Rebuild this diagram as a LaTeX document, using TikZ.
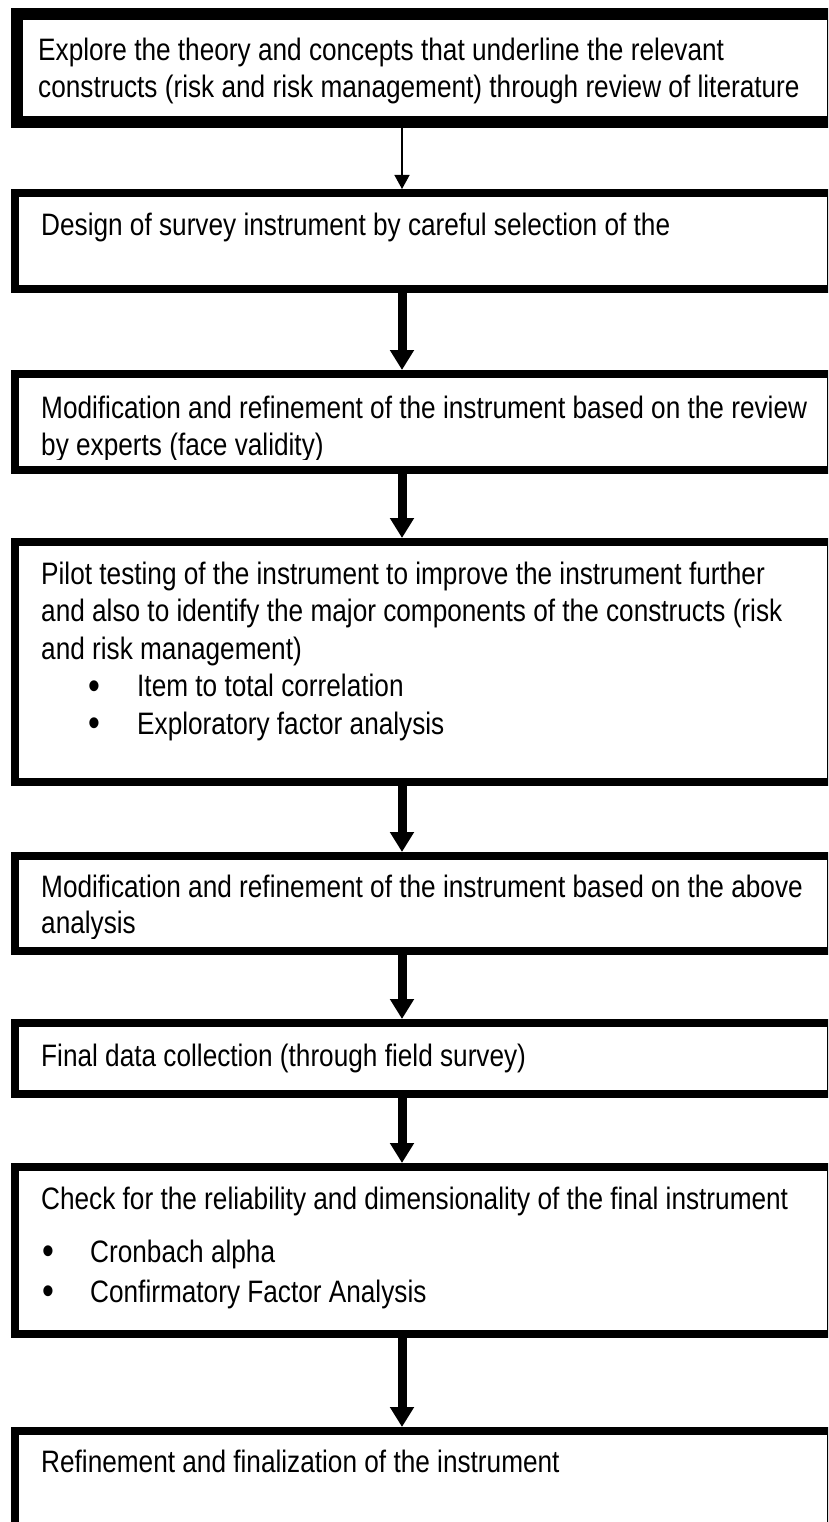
\documentclass[tikz,border=0pt]{standalone}
\usepackage{fontspec}
\setmainfont{Liberation Sans}[FakeStretch=0.845]
\usetikzlibrary{arrows.meta}

\begin{document}
\begin{tikzpicture}[x=1pt,y=-1pt,
  stepframe/.style={draw=black, line width=8pt, rectangle, inner sep=0pt,
    minimum width=816pt},
  topframe/.style={stepframe, line width=12pt},
  txt/.style={anchor=base west, inner sep=0pt,
    font=\fontsize{31}{37.5}\selectfont},
  dot/.style={txt, font=\fontsize{40}{40}\selectfont},
  thinflow/.style={draw=black, line width=1.4pt,
    -{Triangle[width=15pt,length=14pt]}},
  thickflow/.style={draw=black, line width=9pt,
    -{Triangle[width=23pt,length=20pt]}}
]
\useasboundingbox (0,0) rectangle (828,1522);
\clip (0,0) rectangle (828,1522);
\fill[white] (0,0) rectangle (828,1522);

% frames of the eight steps (right edges run past the page)
\node[topframe,  minimum height=108pt] (b1) at (425,68) {};
\node[stepframe, minimum height=96pt]  (b2) at (423,241) {};
\node[stepframe, minimum height=96pt]  (b3) at (423,422) {};
\node[stepframe, minimum height=240pt] (b4) at (423,662) {};
\node[stepframe, minimum height=95pt]  (b5) at (423,903.5) {};
\node[stepframe, minimum height=71pt]  (b6) at (423,1058.5) {};
\node[stepframe, minimum height=167pt] (b7) at (423,1250.5) {};
\node[stepframe, minimum height=169pt] (b8) at (423,1515.5) {};

% texts, each clipped to its frame's writing area
\begin{scope}
  \clip (23,21) rectangle (827,108);
  \node[txt] (t1a) at (38,61) {Explore the theory and concepts that underline the relevant};
  \node[txt] (t1b) at (38,98) {constructs (risk and risk management) through review of literature};
\end{scope}
\begin{scope}
  \clip (19,197) rectangle (827,277);
  \node[txt] (t2a) at (41,236) {Design of survey instrument by careful selection of the};
\end{scope}
\begin{scope}
  \clip (19,378) rectangle (827,459);
  \node[txt] (t3a) at (41,418) {Modification and refinement of the instrument based on the review};
  \node[txt] (t3b) at (41,455) {by experts (face validity)};
\end{scope}
\begin{scope}
  \clip (19,547) rectangle (827,770);
  \node[txt] (t4a) at (41,584) {Pilot testing of the instrument to improve the instrument further};
  \node[txt] (t4b) at (41,621.5) {and also to identify the major components of the constructs (risk};
  \node[txt] (t4c) at (41,659) {and risk management)};
  \node[dot] (t4d) at (88,699) {•};
  \node[txt] (t4e) at (137,696.5) {Item to total correlation};
  \node[dot] (t4f) at (88,736.5) {•};
  \node[txt] (t4g) at (137,734) {Exploratory factor analysis};
\end{scope}
\begin{scope}
  \clip (19,859) rectangle (827,938);
  \node[txt] (t5a) at (41,897) {Modification and refinement of the instrument based on the above};
  \node[txt] (t5b) at (41,933) {analysis};
\end{scope}
\begin{scope}
  \clip (19,1027) rectangle (827,1082);
  \node[txt] (t6a) at (41,1066) {Final data collection (through field survey)};
\end{scope}
\begin{scope}
  \clip (19,1171) rectangle (827,1322);
  \node[txt] (t7a) at (41,1209) {Check for the reliability and dimensionality of the final instrument};
  \node[dot] (t7b) at (42,1264.5) {•};
  \node[txt] (t7c) at (90,1262) {Cronbach alpha};
  \node[dot] (t7d) at (42,1304.5) {•};
  \node[txt] (t7e) at (90,1302) {Confirmatory Factor Analysis};
\end{scope}
\node[txt] (t8a) at (41,1472) {Refinement and finalization of the instrument};

% connectors down the middle column
\coordinate (ax) at (402,0);
\draw[thinflow]  (b1.south -| ax) -- (b2.north -| ax);
\draw[thickflow] (b2.south -| ax) -- (b3.north -| ax);
\draw[thickflow] (b3.south -| ax) -- (b4.north -| ax);
\draw[thickflow] (b4.south -| ax) -- (b5.north -| ax);
\draw[thickflow] (b5.south -| ax) -- (b6.north -| ax);
\draw[thickflow] (b6.south -| ax) -- (b7.north -| ax);
\draw[thickflow] (b7.south -| ax) -- (b8.north -| ax);
\end{tikzpicture}
\end{document}
